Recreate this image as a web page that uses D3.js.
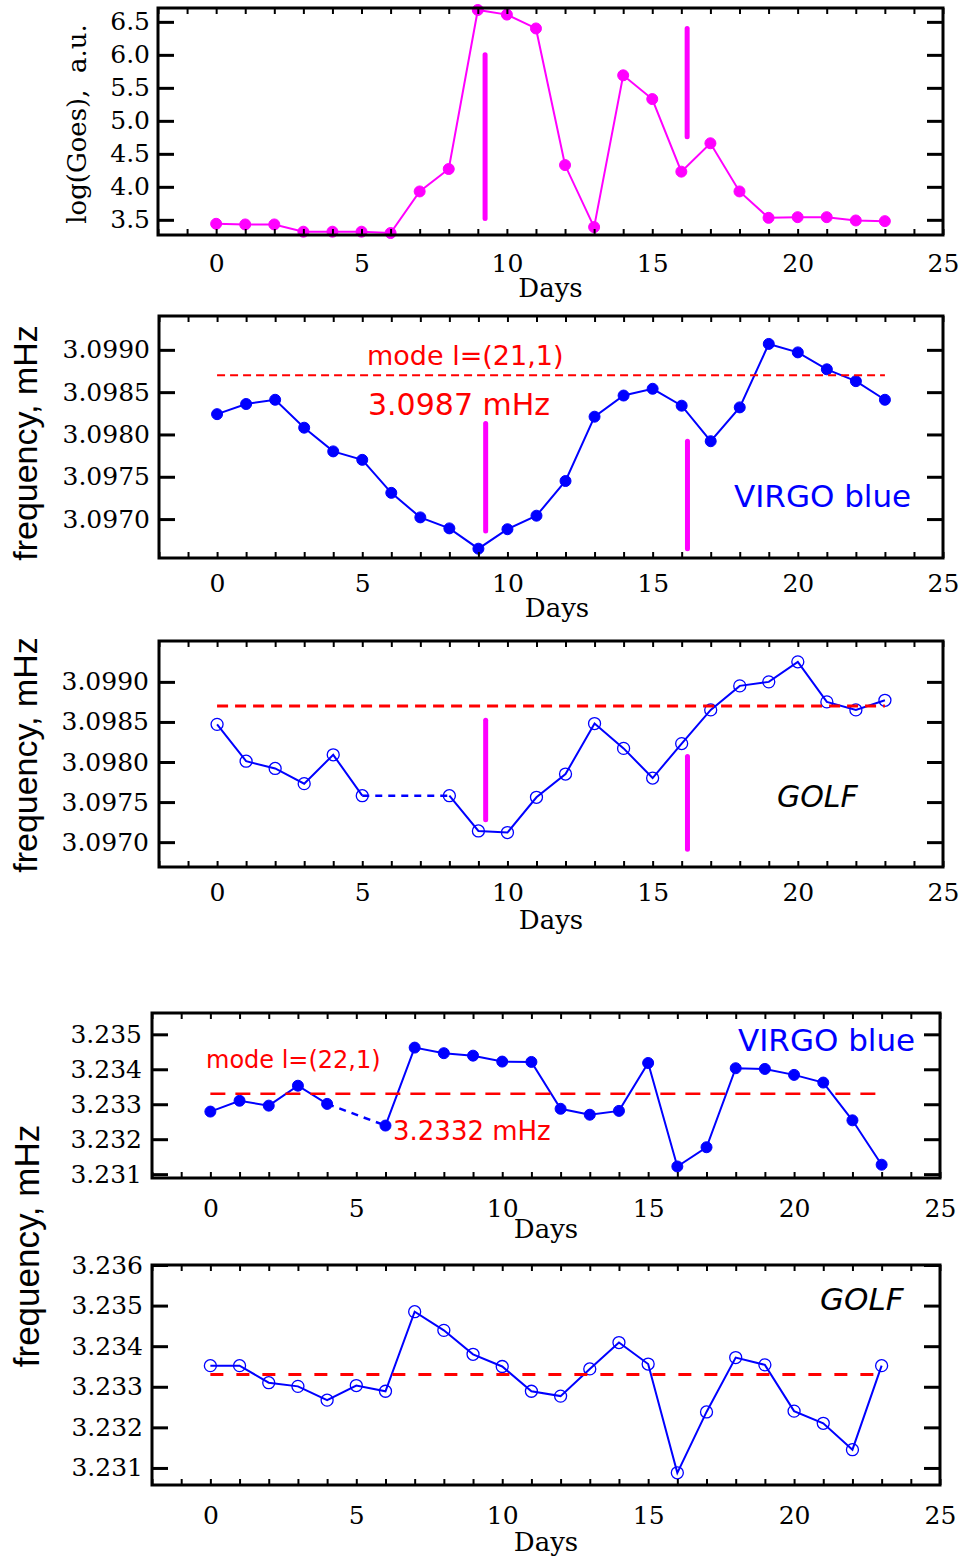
<!DOCTYPE html>
<html>
<head>
<meta charset="UTF-8">
<script src="https://d3js.org/d3.v7.min.js"></script>
<title>GOES flux and p-mode frequencies</title>
<style>
  body { margin: 0; background: #fff; }
</style>
</head>
<body>
<svg id="chart" width="963" height="1564" font-family="DejaVu Serif"></svg>
<script>
// ---- data ----
const days = [0,1,2,3,4,5,6,7,8,9,10,11,12,13,14,15,16,17,18,19,20,21,22,23];
const goes = [3.44,3.43,3.43,3.32,3.32,3.32,3.30,3.93,4.27,6.68,6.61,6.40,4.33,3.39,5.69,5.33,4.23,4.66,3.93,3.53,3.54,3.54,3.49,3.48];
const virgo21 = [3.09824,3.09836,3.09841,3.09808,3.09780,3.09770,3.09731,3.09702,3.09689,3.09665,3.09688,3.09704,
                 3.09745,3.09821,3.09846,3.09854,3.09834,3.09792,3.09832,3.09907,3.09897,3.09877,3.09863,3.09841];
const golf21 = [3.09847,3.09801,3.09792,3.09773,3.09809,3.09758,null,null,3.09758,3.09714,3.09712,3.09756,
                3.09785,3.09848,3.09817,3.09780,3.09823,3.09865,3.09895,3.09900,3.09925,3.09875,3.09865,3.09877];
const virgo22 = [3.23279,3.23310,3.23296,3.23353,3.23301,null,3.23239,3.23462,3.23446,3.23439,3.23422,3.23421,
                 3.23287,3.23270,3.23281,3.23418,3.23122,3.23177,3.23403,3.23401,3.23384,3.23362,3.23254,3.23127];
const golf22 = [3.23352,3.23352,3.23310,3.23301,3.23267,3.23303,3.23289,3.23485,3.23439,3.23380,3.23350,3.23289,
                3.23277,3.23344,3.23409,3.23356,3.23088,3.23238,3.23372,3.23354,3.23240,3.23210,3.23145,3.23352];
const ref21 = 3.0987;
const ref22 = 3.2333;
const flareDays = [9.25, 16.2];
const flareGoes = [[6.0, 3.52], [6.4, 4.76]];
const flareVirgo21 = [[3.09813, 3.09686], [3.09792, 3.09665]];
const flareGolf21 = [[3.09852, 3.09728], [3.09807, 3.09691]];
const dayTicks = [0,5,10,15,20,25];
const goesTicks = [3.5,4.0,4.5,5.0,5.5,6.0,6.5];
const f21Ticks = [3.0970,3.0975,3.0980,3.0985,3.0990];
const f22Ticks = [3.231,3.232,3.233,3.234,3.235];
const f22GolfTicks = [3.231,3.232,3.233,3.234,3.235,3.236];

const svg = d3.select("#chart");
const BLUE = "#0000ff", RED = "#ff0000", MAG = "#ff00ff";

function drawPanel(p) {
  const x = d3.scaleLinear().domain([-2, 25]).range([p.x0, p.x1]);
  const y = d3.scaleLinear().domain(p.yDomain).range([p.y1, p.y0]);
  const g = svg.append("g");

  // flare markers
  (p.flares || []).forEach((f, i) => {
    g.append("line")
      .attr("x1", x(flareDays[i])).attr("x2", x(flareDays[i]))
      .attr("y1", y(f[0])).attr("y2", y(f[1]))
      .attr("stroke", MAG).attr("stroke-width", 5).attr("stroke-linecap", "round");
  });

  // series
  const pts = days.map((d, i) => ({d: d, v: p.values[i]}));
  const line = d3.line().defined(o => o.v != null).x(o => x(o.d)).y(o => y(o.v));
  g.append("path").attr("d", line(pts))
    .attr("fill", "none").attr("stroke", p.color).attr("stroke-width", 2);
  // dashed bridge over missing days
  for (let i = 0; i < pts.length - 1; i++) {
    if (pts[i].v != null && pts[i + 1].v == null) {
      let j = i + 1;
      while (j < pts.length && pts[j].v == null) j++;
      if (j < pts.length) {
        g.append("path").attr("d", line([pts[i], pts[j]]))
          .attr("fill", "none").attr("stroke", p.color).attr("stroke-width", 2.5)
          .attr("stroke-dasharray", "7,6");
      }
    }
  }
  g.append("g").selectAll("circle")
    .data(pts.filter(o => o.v != null))
    .join("circle")
    .attr("cx", o => x(o.d)).attr("cy", o => y(o.v))
    .attr("r", p.open ? 6 : 5.5)
    .attr("fill", p.open ? "none" : p.color)
    .attr("stroke", p.color).attr("stroke-width", p.open ? 1.3 : 1);

  // reference frequency
  if (p.ref != null) {
    g.append("line")
      .attr("x1", x(days[0])).attr("x2", x(days[days.length - 1]))
      .attr("y1", y(p.ref)).attr("y2", y(p.ref))
      .attr("stroke", RED).attr("stroke-width", p.refWidth).attr("stroke-dasharray", p.dash);
  }

  // ticks (inward)
  const clean = a => a.select(".domain").remove();
  const minor = d3.range(-2, 26);
  g.append("g").attr("transform", `translate(0,${p.y1})`)
    .call(d3.axisBottom(x).tickValues(minor).tickSize(-6).tickFormat("")).call(clean)
    .selectAll("line").attr("stroke-width", 2);
  g.append("g").attr("transform", `translate(0,${p.y0})`)
    .call(d3.axisTop(x).tickValues(minor).tickSize(-6).tickFormat("")).call(clean)
    .selectAll("line").attr("stroke-width", 2);
  g.append("g").attr("transform", `translate(${p.x0},0)`)
    .call(d3.axisLeft(y).tickValues(p.ticks).tickSize(-16).tickFormat("")).call(clean)
    .selectAll("line").attr("stroke-width", 3);
  g.append("g").attr("transform", `translate(${p.x1},0)`)
    .call(d3.axisRight(y).tickValues(p.ticks).tickSize(-16).tickFormat("")).call(clean)
    .selectAll("line").attr("stroke-width", 3);

  // tick labels
  g.append("g").attr("transform", `translate(0,${p.y1})`)
    .call(d3.axisBottom(x).tickValues(dayTicks).tickSize(0).tickPadding(p.xPad).tickFormat(d3.format("d")))
    .call(clean)
    .attr("font-family", "DejaVu Serif").attr("font-size", 25);
  g.append("g").attr("transform", `translate(${p.x0},0)`)
    .call(d3.axisLeft(y).tickValues(p.ticks).tickSize(0).tickPadding(p.yPad).tickFormat(d3.format(p.fmt)))
    .call(clean)
    .attr("font-family", "DejaVu Serif").attr("font-size", 25);

  g.append("text").attr("x", (p.x0 + p.x1) / 2 + (p.daysShift || 0)).attr("y", p.y1 + p.daysOff)
    .attr("text-anchor", "middle").attr("font-size", 26).text("Days");

  // frame
  g.append("rect").attr("x", p.x0).attr("y", p.y0)
    .attr("width", p.x1 - p.x0).attr("height", p.y1 - p.y0)
    .attr("fill", "none").attr("stroke", "#000").attr("stroke-width", 3);
  return g;
}

drawPanel({x0: 158, x1: 943, y0: 8, y1: 235, yDomain: [3.27, 6.71], values: goes, color: MAG,
  open: false, flares: flareGoes, ticks: goesTicks, fmt: ".1f", xPad: 19, yPad: 8, daysOff: 62});
drawPanel({x0: 159, x1: 943, y0: 316, y1: 558, yDomain: [3.09654, 3.09940], values: virgo21, color: BLUE,
  open: false, flares: flareVirgo21, ticks: f21Ticks, fmt: ".4f", ref: ref21, refWidth: 2, dash: "8,5",
  xPad: 16, yPad: 9, daysOff: 59, daysShift: 6});
drawPanel({x0: 159, x1: 943, y0: 641, y1: 867, yDomain: [3.09669, 3.09951], values: golf21, color: BLUE,
  open: true, flares: flareGolf21, ticks: f21Ticks, fmt: ".4f", ref: ref21, refWidth: 3, dash: "11,7",
  xPad: 16, yPad: 10, daysOff: 62});
drawPanel({x0: 152, x1: 940, y0: 1013, y1: 1178, yDomain: [3.23089, 3.23561], values: virgo22, color: BLUE,
  open: false, ticks: f22Ticks, fmt: ".3f", ref: ref22, refWidth: 2.5, dash: "15,10",
  xPad: 21, yPad: 10, daysOff: 60});
drawPanel({x0: 152, x1: 940, y0: 1265, y1: 1485, yDomain: [3.23058, 3.236], values: golf22, color: BLUE,
  open: true, ticks: f22GolfTicks, fmt: ".3f", ref: ref22, refWidth: 3, dash: "13,13",
  xPad: 21, yPad: 9, daysOff: 66});

// axis titles
const vtext = (xp, yp, txt, font, size) => svg.append("text")
  .attr("transform", `translate(${xp},${yp}) rotate(-90)`)
  .attr("text-anchor", "middle").style("font-family", font).attr("font-size", size)
  .style("white-space", "pre").text(txt);
vtext(86, 124, "log(Goes),  a.u.", "DejaVu Serif", 26);
vtext(37, 443, "frequency, mHz", "Liberation Sans", 34);
vtext(37, 755, "frequency, mHz", "Liberation Sans", 34);
vtext(39, 1246, "frequency, mHz", "Liberation Sans", 35);

// annotations
const note = (xp, yp, txt, color, size, italic) => svg.append("text")
  .attr("x", xp).attr("y", yp).attr("fill", color)
  .style("font-family", "DejaVu Sans").attr("font-size", size)
  .attr("font-style", italic ? "italic" : "normal").text(txt);
note(367, 365, "mode l=(21,1)", RED, 27);
note(368, 415, "3.0987 mHz", RED, 30);
note(734, 507, "VIRGO blue", BLUE, 31);
note(777, 807, "GOLF", "#000", 30, true);
note(206, 1068, "mode l=(22,1)", RED, 24);
note(393, 1140, "3.2332 mHz", RED, 26);
note(738, 1051, "VIRGO blue", BLUE, 31);
note(820, 1310, "GOLF", "#000", 31, true);
</script>
</body>
</html>
